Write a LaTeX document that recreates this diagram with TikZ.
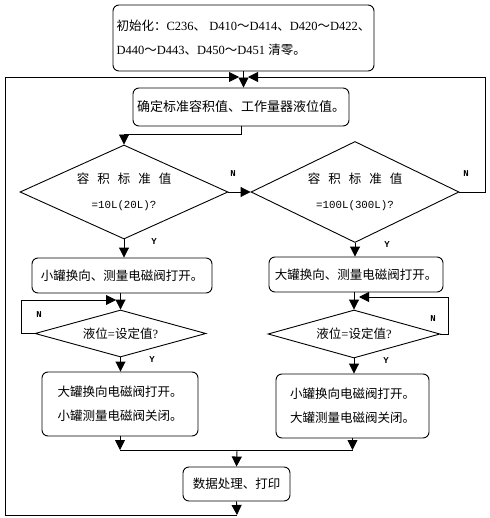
\documentclass[tikz,border=0pt]{standalone}
\usepackage{fontspec}
\setmainfont{Liberation Serif}
\setmonofont{Liberation Mono}
\newfontfamily\cjk{Noto Sans CJK SC}
\usetikzlibrary{shapes.geometric,arrows.meta}
\tikzset{
	box/.style = {draw, rounded corners=6pt, line width=0.9pt, inner sep=0pt, align=left, font=\fontsize{12.5}{24}\selectfont},
	dec/.style = {draw, diamond, aspect=3, inner sep=0pt, line width=0.9pt, align=center, font=\fontsize{12.5}{25}\selectfont},
	yn/.style = {inner sep=0pt, font=\fontsize{9}{9}\selectfont\ttfamily\bfseries},
	>={Triangle[width=10pt,length=10pt]}
}
\newcommand{\gap}{\hspace{8pt}}
\begin{document}
\begin{tikzpicture}[x=1pt, y=-1pt, line width=0.9pt]
	\useasboundingbox (0,0) rectangle (489,518);
	% boxes
	\node[box, minimum width=261, minimum height=66] (init) at (243.5,38) {{\cjk 初始化：}C236{\cjk 、} D410{\cjk ～}D414{\cjk 、}D420{\cjk ～}D422{\cjk 、}\\D440{\cjk ～}D443{\cjk 、}D450{\cjk ～}D451 {\cjk 清零。}};
	\node[box, minimum width=216, minimum height=38, font=\fontsize{13}{24}\selectfont] (conf) at (241,107) {\cjk 确定标准容积值、工作量器液位值。};
	\node[dec, minimum width=206, minimum height=94] (d1) at (124,192) {{\cjk 容\gap 积\gap 标\gap 准\gap 值}\\{\ttfamily\fontsize{10.8}{12}\selectfont =10L(20L)?}};
	\node[dec, minimum width=204, minimum height=101] (d2) at (355,192) {{\cjk 容\gap 积\gap 标\gap 准\gap 值}\\{\ttfamily\fontsize{10.8}{12}\selectfont =100L(300L)?}};
	\node[box, minimum width=180, minimum height=35] (b1) at (122,275.5) {\cjk 小罐换向、测量电磁阀打开。};
	\node[box, minimum width=174, minimum height=35] (b2) at (356,274.5) {\cjk 大罐换向、测量电磁阀打开。};
	\node[dec, minimum width=171, minimum height=47] (d3) at (120.5,333.5) {{\cjk 液位}={\cjk 设定值}?};
	\node[dec, minimum width=172, minimum height=48] (d4) at (354,334) {{\cjk 液位}={\cjk 设定值}?};
	\node[box, minimum width=156, minimum height=64] (b3) at (120,404) {\cjk 大罐换向电磁阀打开。\\\cjk 小罐测量电磁阀关闭。};
	\node[box, minimum width=153, minimum height=64] (b4) at (352.5,406) {\cjk 小罐换向电磁阀打开。\\\cjk 大罐测量电磁阀关闭。};
	\node[box, minimum width=107, minimum height=34] (b5) at (236.5,484) {\cjk 数据处理、打印};
	% Y / N
	\node[yn] (n1) at (233,174) {N};
	\node[yn] (n2) at (466,174) {N};
	\node[yn] (n3) at (39,315) {N};
	\node[yn] (n4) at (433,319) {N};
	\node[yn] (y1) at (154,242) {Y};
	\node[yn] (y2) at (387,245) {Y};
	\node[yn] (y3) at (152,360) {Y};
	\node[yn] (y4) at (386,361) {Y};
	% joints
	\coordinate (tl) at (239,77);
	\coordinate (tr) at (248,77);
	\coordinate (lj) at (116,300);
	\coordinate (rj) at (359,297);
	\coordinate (mg) at (237,450);
	\coordinate (bot) at (237,515);
	\coordinate (lc) at (5,515);
	% connectors
	\draw[->] (init.south) -- (init.south |- conf.north);
	\draw[->] (conf.south) -- ++(0,8) -| (d1.north);
	\draw[->] (d1.east) -- (d2.west);
	\draw[->] (d2.east) -- ++(26,0) |- (tr);
	\draw[->] (d1.south) -- (d1.south |- b1.north);
	\draw[->] (d2.south) -- (d2.south |- b2.north);
	\draw[->] (d3.north |- b1.south) -- (d3.north);
	\draw[->] (d4.north |- b2.south) -- (d4.north);
	\draw[->] (d3.west) -- ++(-13,0) |- (lj);
	\draw[->] (d4.east) -- ++(8,0) |- (rj);
	\draw[->] (d3.south) -- (d3.south |- b3.north);
	\draw[->] (d4.south) -- (d4.south |- b4.north);
	\draw[->] (b3.south) -- (b3.south |- mg);
	\draw[->] (b4.south) -- (b4.south |- mg);
	\draw (b3.south |- mg) -- (b4.south |- mg);
	\draw[->] (mg) -- (b5.north);
	\draw[->] (b5.south) -- (bot);
	\draw[->] (bot) -- (lc) |- (tl);
\end{tikzpicture}
\end{document}
